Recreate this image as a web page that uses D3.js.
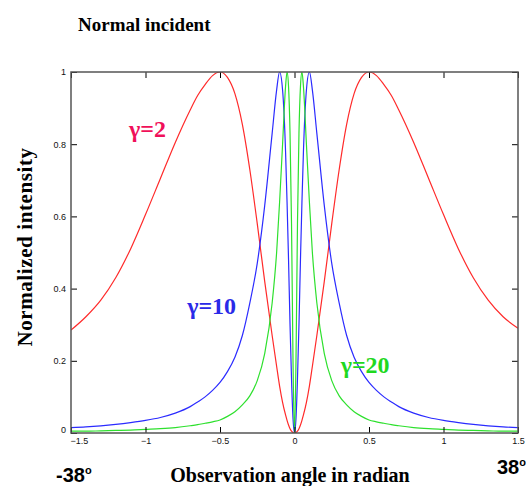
<!DOCTYPE html>
<html>
<head>
<meta charset="utf-8">
<script src="https://cdn.jsdelivr.net/npm/d3@7"></script>
<style>
  body { margin: 0; background: #fff; }
</style>
</head>
<body>
<div id="wrapper"></div>
<script>
// observation angle (radian) shared by all three curves
const angles = [-1.5, -1.4, -1.3, -1.2, -1.1, -1.0, -0.9, -0.8, -0.7, -0.65, -0.6, -0.55, -0.5,
  -0.45, -0.4, -0.35, -0.3, -0.25, -0.2, -0.15, -0.12, -0.1, -0.08, -0.06, -0.05,
  -0.04, -0.03, -0.02, -0.01, 0,
  0.01, 0.02, 0.03, 0.04, 0.05, 0.06, 0.08, 0.1, 0.12, 0.15, 0.2, 0.25, 0.3, 0.35,
  0.4, 0.45, 0.5, 0.55, 0.6, 0.65, 0.7, 0.8, 0.9, 1.0, 1.1, 1.2, 1.3, 1.4, 1.5]

// normalized intensity
const gamma2 = [0.285, 0.322, 0.368, 0.43, 0.51, 0.605, 0.705, 0.805, 0.895, 0.935, 0.965, 0.99, 1.0,
  0.985, 0.94, 0.855, 0.73, 0.58, 0.42, 0.27, 0.185, 0.13, 0.085, 0.05, 0.035,
  0.022, 0.012, 0.005, 0.001, 0,
  0.001, 0.005, 0.012, 0.022, 0.035, 0.05, 0.085, 0.13, 0.185, 0.27, 0.42, 0.58, 0.73, 0.855,
  0.94, 0.985, 1.0, 0.99, 0.965, 0.935, 0.895, 0.805, 0.705, 0.605, 0.51, 0.43, 0.368, 0.322, 0.29]

const gamma10 = [0.015, 0.017, 0.02, 0.024, 0.029, 0.035, 0.043, 0.055, 0.073, 0.086, 0.1, 0.118, 0.14,
  0.17, 0.21, 0.27, 0.36, 0.47, 0.63, 0.83, 0.95, 1.0, 0.95, 0.78, 0.64,
  0.48, 0.3, 0.15, 0.04, 0,
  0.04, 0.15, 0.3, 0.48, 0.64, 0.78, 0.95, 1.0, 0.95, 0.83, 0.63, 0.47, 0.36, 0.27,
  0.21, 0.17, 0.14, 0.118, 0.1, 0.086, 0.073, 0.055, 0.043, 0.035, 0.029, 0.024, 0.02, 0.017, 0.015]

const gamma20 = [0.005, 0.005, 0.006, 0.007, 0.008, 0.01, 0.012, 0.015, 0.02, 0.023, 0.027, 0.031, 0.036,
  0.046, 0.059, 0.078, 0.103, 0.145, 0.22, 0.36, 0.5, 0.64, 0.8, 0.96, 1.0,
  0.96, 0.83, 0.58, 0.2, 0,
  0.2, 0.58, 0.83, 0.96, 1.0, 0.96, 0.8, 0.64, 0.5, 0.36, 0.22, 0.145, 0.103, 0.078,
  0.059, 0.046, 0.036, 0.031, 0.027, 0.023, 0.02, 0.015, 0.012, 0.01, 0.008, 0.007, 0.006, 0.005, 0.005]

const xTicks = [-1.5, -1, -0.5, 0, 0.5, 1, 1.5]
const yTicks = [0, 0.2, 0.4, 0.6, 0.8, 1]

const series = [
  {name: "γ=2", values: gamma2, color: "#ff2a2a", labelColor: "#f0105a", lx: -1.11, ly: 0.82},
  {name: "γ=10", values: gamma10, color: "#2b2bff", labelColor: "#2a2ae8", lx: -0.72, ly: 0.33},
  {name: "γ=20", values: gamma20, color: "#2ee02e", labelColor: "#1fd81f", lx: 0.31, ly: 0.167},
]

function drawChart(){
  let dimensions = {
    width: 526,
    height: 486,
    margin: {top: 72, right: 8, bottom: 53, left: 71},
  }
  dimensions.boundedWidth = dimensions.width - dimensions.margin.left - dimensions.margin.right
  dimensions.boundedHeight = dimensions.height - dimensions.margin.top - dimensions.margin.bottom

  const wrapper = d3.select("#wrapper").append("svg")
    .attr("width", dimensions.width)
    .attr("height", dimensions.height)

  const bounds = wrapper.append("g")
    .attr("transform", `translate(${dimensions.margin.left},${dimensions.margin.top})`)

  const xScale = d3.scaleLinear()
    .domain([-1.5, 1.5])
    .range([0, dimensions.boundedWidth])

  const yScale = d3.scaleLinear()
    .domain([0, 1])
    .range([dimensions.boundedHeight, 0])

  bounds.append("clipPath").attr("id", "plot-clip")
    .append("rect")
    .attr("width", dimensions.boundedWidth)
    .attr("height", dimensions.boundedHeight)

  // lines
  series.forEach(s => {
    const lineGenerator = d3.line()
      .x((d, i) => xScale(angles[i]))
      .y(d => yScale(d))
      .curve(d3.curveMonotoneX)

    bounds.append("path")
      .attr("d", lineGenerator(s.values))
      .attr("fill", "none")
      .attr("stroke", s.color)
      .attr("stroke-width", 1.2)
      .attr("clip-path", "url(#plot-clip)")
  })

  // axes, ticks pointing inward
  const tickFont = g => g.selectAll("text")
    .attr("font-family", "Liberation Sans, Arial, sans-serif")
    .attr("font-size", 9)
    .attr("fill", "#111")

  const xAxis = bounds.append("g")
    .attr("transform", `translate(0,${dimensions.boundedHeight})`)
    .call(d3.axisBottom(xScale).tickValues(xTicks).tickSizeInner(-6).tickSizeOuter(0).tickPadding(5)
      .tickFormat(d3.format("")))
    .call(tickFont)
  xAxis.select(".domain").remove()
  // first label sits just right of the corner, as in the reference
  xAxis.selectAll(".tick text").filter(d => d === xTicks[0])
    .attr("text-anchor", "start")
    .attr("x", -1)

  const yAxis = bounds.append("g")
    .call(d3.axisLeft(yScale).tickValues(yTicks).tickSizeInner(-6).tickSizeOuter(0).tickPadding(5)
      .tickFormat(d3.format("")))
    .call(tickFont)
  yAxis.select(".domain").remove()
  yAxis.selectAll(".tick text").filter(d => d === 0)
    .attr("dy", "-0.1em")

  const topAxis = bounds.append("g")
    .call(d3.axisTop(xScale).tickValues(xTicks).tickSizeInner(-6).tickSizeOuter(0).tickFormat(""))
  topAxis.select(".domain").remove()

  const rightAxis = bounds.append("g")
    .attr("transform", `translate(${dimensions.boundedWidth},0)`)
    .call(d3.axisRight(yScale).tickValues(yTicks).tickSizeInner(-6).tickSizeOuter(0).tickFormat(""))
  rightAxis.select(".domain").remove()

  // frame
  bounds.append("rect")
    .attr("width", dimensions.boundedWidth)
    .attr("height", dimensions.boundedHeight)
    .attr("fill", "none")
    .attr("stroke", "#555")
    .attr("stroke-width", 1.5)

  // curve labels
  series.forEach(s => {
    bounds.append("text")
      .attr("x", xScale(s.lx))
      .attr("y", yScale(s.ly))
      .attr("font-family", "Liberation Serif, Times New Roman, serif")
      .attr("font-weight", "bold")
      .attr("font-size", 24)
      .attr("fill", s.labelColor)
      .text(s.name)
  })

  // titles
  wrapper.append("text")
    .attr("x", 78)
    .attr("y", 31)
    .attr("font-family", "Liberation Serif, Times New Roman, serif")
    .attr("font-weight", "bold")
    .attr("font-size", 19)
    .text("Normal incident")

  wrapper.append("text")
    .attr("transform", "translate(32,247) rotate(-90)")
    .attr("text-anchor", "middle")
    .attr("font-family", "Liberation Serif, Times New Roman, serif")
    .attr("font-weight", "bold")
    .attr("font-size", 21)
    .attr("letter-spacing", 0.6)
    .text("Normalized intensity")

  wrapper.append("text")
    .attr("x", 290)
    .attr("y", 482)
    .attr("text-anchor", "middle")
    .attr("font-family", "Liberation Serif, Times New Roman, serif")
    .attr("font-weight", "bold")
    .attr("font-size", 20)
    .text("Observation angle in radian")

  const degLabel = (x, y, txt) => {
    const t = wrapper.append("text")
      .attr("x", x)
      .attr("y", y)
      .attr("font-family", "Liberation Sans Narrow, Liberation Sans, Arial, sans-serif")
      .attr("font-weight", "bold")
      .attr("font-size", 20)
    t.append("tspan").text(txt)
    t.append("tspan").attr("font-size", 11).attr("dy", -8).text("o")
  }
  degLabel(56, 482, "-38")
  degLabel(497, 474, "38")
}

drawChart()
</script>
</body>
</html>
